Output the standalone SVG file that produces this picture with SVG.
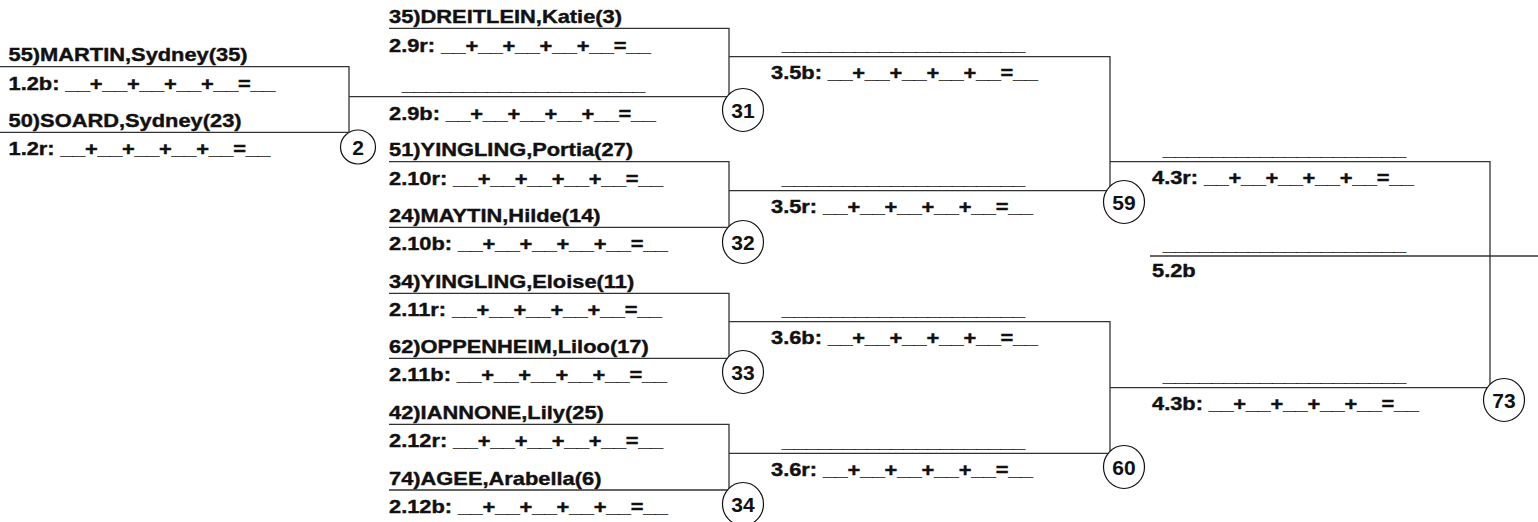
<svg xmlns="http://www.w3.org/2000/svg" width="1538" height="522" viewBox="0 0 1538 522">
<style>
.t{font-family:"Liberation Sans",Arial,sans-serif;font-weight:bold;font-size:18.6px;fill:#111;stroke:#111;stroke-width:0.4}
.c{font-family:"Liberation Sans",Arial,sans-serif;font-weight:bold;font-size:21px;fill:#111;text-anchor:middle}
.l{stroke:#333;stroke-width:1.3;fill:none}
.o{stroke:#111;stroke-width:1.2;fill:#fff}
</style>
<rect width="1538" height="522" fill="#fff"/>
<g id="connectors" class="l">
<path d="M0 66.7H349V132.3H0M349 96.7H729"/>
<path d="M389 28.3H729V96.7"/>
<path d="M389 161.7H729V227.3H389"/>
<path d="M389 293.3H729V358.3H389"/>
<path d="M389 424.3H729V490H389"/>
<path d="M729 56.7H1110V190.7H729"/>
<path d="M729 321.7H1110V453.3H729"/>
<path d="M1110 161.7H1490V387.7H1110"/>
<path d="M1150 256H1538"/>
</g>
<g id="r1">
<text class="t" transform="translate(8.5 61.2) scale(1.175 1)">55)MARTIN,Sydney(35)</text>
<text class="t" transform="translate(8.5 89.5) scale(1.175 1)">1.2b: __+__+__+__+__=__</text>
<text class="t" transform="translate(8.5 126.8) scale(1.175 1)">50)SOARD,Sydney(23)</text>
<text class="t" transform="translate(8.5 154.5) scale(1.175 1)">1.2r: __+__+__+__+__=__</text>
</g>
<g id="r2">
<text class="t" transform="translate(389 22.8) scale(1.175 1)">35)DREITLEIN,Katie(3)</text>
<text class="t" transform="translate(389 51.5) scale(1.175 1)">2.9r: __+__+__+__+__=__</text>
<text class="t" transform="translate(402 91.2) scale(1.175 1)">____________________</text>
<text class="t" transform="translate(389 119.5) scale(1.175 1)">2.9b: __+__+__+__+__=__</text>
<text class="t" transform="translate(389 156.2) scale(1.175 1)">51)YINGLING,Portia(27)</text>
<text class="t" transform="translate(389 184.5) scale(1.175 1)">2.10r: __+__+__+__+__=__</text>
<text class="t" transform="translate(389 221.8) scale(1.175 1)">24)MAYTIN,Hilde(14)</text>
<text class="t" transform="translate(389 250) scale(1.175 1)">2.10b: __+__+__+__+__=__</text>
<text class="t" transform="translate(389 287.8) scale(1.175 1)">34)YINGLING,Eloise(11)</text>
<text class="t" transform="translate(389 316) scale(1.175 1)">2.11r: __+__+__+__+__=__</text>
<text class="t" transform="translate(389 352.8) scale(1.175 1)">62)OPPENHEIM,Liloo(17)</text>
<text class="t" transform="translate(389 381) scale(1.175 1)">2.11b: __+__+__+__+__=__</text>
<text class="t" transform="translate(389 418.8) scale(1.175 1)">42)IANNONE,Lily(25)</text>
<text class="t" transform="translate(389 447) scale(1.175 1)">2.12r: __+__+__+__+__=__</text>
<text class="t" transform="translate(389 484.5) scale(1.175 1)">74)AGEE,Arabella(6)</text>
<text class="t" transform="translate(389 512.5) scale(1.175 1)">2.12b: __+__+__+__+__=__</text>
</g>
<g id="r3">
<text class="t" transform="translate(782 51.2) scale(1.175 1)">____________________</text>
<text class="t" transform="translate(771 79) scale(1.175 1)">3.5b: __+__+__+__+__=__</text>
<text class="t" transform="translate(782 185.2) scale(1.175 1)">____________________</text>
<text class="t" transform="translate(771 213) scale(1.175 1)">3.5r: __+__+__+__+__=__</text>
<text class="t" transform="translate(782 316.2) scale(1.175 1)">____________________</text>
<text class="t" transform="translate(771 344) scale(1.175 1)">3.6b: __+__+__+__+__=__</text>
<text class="t" transform="translate(782 447.8) scale(1.175 1)">____________________</text>
<text class="t" transform="translate(771 475.5) scale(1.175 1)">3.6r: __+__+__+__+__=__</text>
</g>
<g id="r4">
<text class="t" transform="translate(1163 156.2) scale(1.175 1)">____________________</text>
<text class="t" transform="translate(1152 184) scale(1.175 1)">4.3r: __+__+__+__+__=__</text>
<text class="t" transform="translate(1163 250.5) scale(1.175 1)">____________________</text>
<text class="t" transform="translate(1152 277) scale(1.175 1)">5.2b</text>
<text class="t" transform="translate(1163 382.2) scale(1.175 1)">____________________</text>
<text class="t" transform="translate(1152 410) scale(1.175 1)">4.3b: __+__+__+__+__=__</text>
</g>
<g id="m2"><ellipse class="o" cx="358" cy="147" rx="17.5" ry="17"/><text class="c" x="358" y="154.5">2</text></g>
<g id="m31"><ellipse class="o" cx="743" cy="110" rx="20.5" ry="21.5"/><text class="c" x="743" y="117.5">31</text></g>
<g id="m32"><ellipse class="o" cx="743" cy="242" rx="20.5" ry="21.5"/><text class="c" x="743" y="249.5">32</text></g>
<g id="m33"><ellipse class="o" cx="743" cy="372" rx="20.5" ry="21.5"/><text class="c" x="743" y="379.5">33</text></g>
<g id="m34"><ellipse class="o" cx="743" cy="504" rx="20.5" ry="21.5"/><text class="c" x="743" y="511.5">34</text></g>
<g id="m59"><ellipse class="o" cx="1124" cy="202" rx="20.5" ry="21.5"/><text class="c" x="1124" y="209.5">59</text></g>
<g id="m60"><ellipse class="o" cx="1124" cy="467" rx="20.5" ry="21.5"/><text class="c" x="1124" y="474.5">60</text></g>
<g id="m73"><ellipse class="o" cx="1504" cy="400" rx="20.5" ry="21.5"/><text class="c" x="1504" y="407.5">73</text></g>
</svg>
